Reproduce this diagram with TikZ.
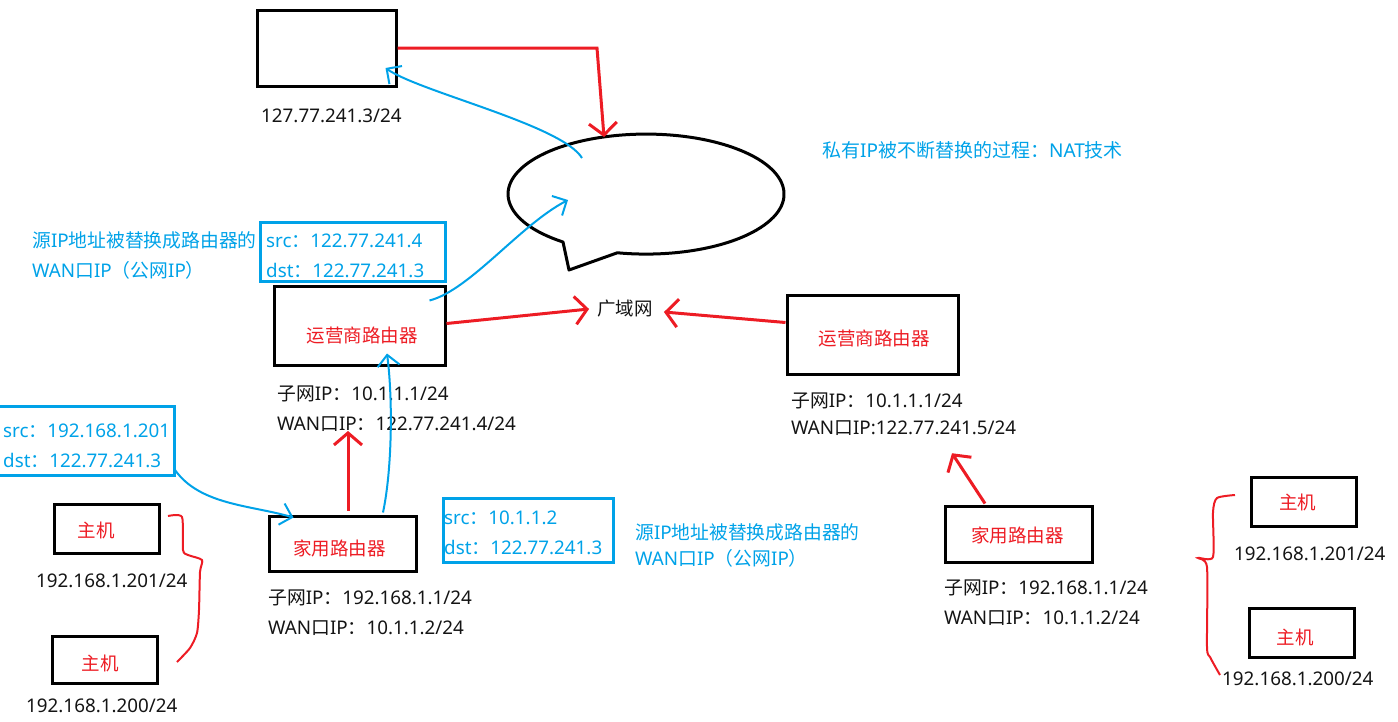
\documentclass[tikz,border=0pt]{standalone}
\usepackage{fontspec}
\setmainfont{Noto Sans}
\newfontfamily\cjk{Noto Sans CJK SC}
\usetikzlibrary{arrows.meta,calc}
\newcommand{\zh}[1]{{\cjk #1}}
\definecolor{pred}{RGB}{237,28,36}
\definecolor{pblue}{RGB}{0,162,232}
\definecolor{ptext}{RGB}{20,20,20}
\begin{document}
\begin{tikzpicture}[x=1pt,y=-1pt,
  box/.style={draw=black,line width=3pt,inner sep=0pt},
  bbox/.style={draw=pblue,line width=3pt,inner sep=0pt},
  txt/.style={anchor=base west,inner sep=0pt,text=ptext,font=\fontsize{18.8}{22}\selectfont},
  btxt/.style={txt,text=pblue},
  rtxt/.style={anchor=center,inner sep=0pt,text=pred,font=\fontsize{18.5}{22}\selectfont\cjk},
  rarr/.style={draw=pred,line width=3pt,-{Straight Barb[length=12pt,width=28pt]}},
  barr/.style={draw=pblue,line width=2pt,-{Straight Barb[length=11pt,width=22pt]}},
  brace/.style={draw=pred,line width=2pt},
]
\useasboundingbox (0,0) rectangle (1398,721);

% ---------- top server ----------
\node[box,minimum width=139pt,minimum height=76pt] (top) at (326.5,48) {};
\node[txt] (topip) at (261,122) {127.77.241.3/24};

% ---------- speech bubble (WAN) ----------
\draw[line width=3pt,line join=round] (563,242) arc[start angle=127,end angle=462,x radius=138,y radius=60] -- (569,270) -- cycle;
\coordinate (bubtop) at (604,137);
\coordinate (bubin1) at (582,158);
\coordinate (bubin2) at (568,200);

\node[btxt,font=\fontsize{19}{24}\selectfont] (title) at (822,157) {\zh{私有}IP\zh{被不断替换的过程：}NAT\zh{技术}};

% ---------- left notes ----------
\node[btxt] (noteL1) at (32,247) {\zh{源}IP\zh{地址被替换成路由器的}};
\node[btxt] (noteL2) at (32,277) {WAN\zh{口}IP\zh{（公网}IP\zh{）}};

\node[bbox,minimum width=185pt,minimum height=59pt] (pkt3) at (352.5,251.5) {};
\node[btxt] (pkt3a) at (266,247) {src\zh{：}122.77.241.4};
\node[btxt] (pkt3b) at (266,277) {dst\zh{：}122.77.241.3};

% ---------- left ISP router ----------
\node[box,minimum width=171pt,minimum height=79pt] (ispL) at (359.5,325.5) {};
\node[rtxt] (ispLt) at (362,335) {运营商路由器};
\node[txt] (ispLa) at (277,400) {\zh{子网}IP\zh{：}10.1.1.1/24};
\node[txt] (ispLb) at (277,430) {WAN\zh{口}IP\zh{：}122.77.241.4/24};

% ---------- packet 1 ----------
\node[bbox,minimum width=176pt,minimum height=69pt] (pkt1) at (86,440.5) {};
\node[btxt] (pkt1a) at (3,437) {src\zh{：}192.168.1.201};
\node[btxt] (pkt1b) at (3,467) {dst\zh{：}122.77.241.3};

% ---------- left hosts ----------
\node[box,minimum width=105pt,minimum height=49pt] (hL1) at (106.5,528.5) {};
\node[rtxt] (hL1t) at (96,530) {主机};
\node[txt] (hL1ip) at (36,587) {192.168.1.201/24};
\node[box,minimum width=105pt,minimum height=47pt] (hL2) at (104.5,659.5) {};
\node[rtxt] (hL2t) at (100,663) {主机};
\node[txt] (hL2ip) at (26,712) {192.168.1.200/24};

% ---------- left home router ----------
\node[box,minimum width=147pt,minimum height=55pt] (homeL) at (342.5,543.5) {};
\node[rtxt] (homeLt) at (339.5,548) {家用路由器};
\node[txt] (homeLa) at (268,604) {\zh{子网}IP\zh{：}192.168.1.1/24};
\node[txt] (homeLb) at (268,634) {WAN\zh{口}IP\zh{：}10.1.1.2/24};

% ---------- packet 2 ----------
\node[bbox,minimum width=170pt,minimum height=64pt] (pkt2) at (528,530) {};
\node[btxt] (pkt2a) at (444,524) {src\zh{：}10.1.1.2};
\node[btxt] (pkt2b) at (444,554) {dst\zh{：}122.77.241.3};
\node[btxt] (noteR1) at (635,539) {\zh{源}IP\zh{地址被替换成路由器的}};
\node[btxt] (noteR2) at (635,565) {WAN\zh{口}IP\zh{（公网}IP\zh{）}};

% ---------- WAN label ----------
\node[inner sep=0pt,text=ptext,font=\fontsize{18.5}{22}\selectfont\cjk] (wan) at (625,309) {广域网};

% ---------- right ISP router ----------
\node[box,minimum width=171pt,minimum height=79pt] (ispR) at (872.5,334.5) {};
\node[rtxt] (ispRt) at (874,338) {运营商路由器};
\node[txt] (ispRa) at (791,407) {\zh{子网}IP\zh{：}10.1.1.1/24};
\node[txt] (ispRb) at (791,434) {WAN\zh{口}IP:122.77.241.5/24};

% ---------- right home router ----------
\node[box,minimum width=147pt,minimum height=56pt] (homeR) at (1018.5,534) {};
\node[rtxt] (homeRt) at (1017.5,535) {家用路由器};
\node[txt] (homeRa) at (944,594) {\zh{子网}IP\zh{：}192.168.1.1/24};
\node[txt] (homeRb) at (944,624) {WAN\zh{口}IP\zh{：}10.1.1.2/24};

% ---------- right hosts ----------
\node[box,minimum width=105pt,minimum height=49pt] (hR1) at (1303.5,501.5) {};
\node[rtxt] (hR1t) at (1297.5,502) {主机};
\node[txt] (hR1ip) at (1234,560) {192.168.1.201/24};
\node[box,minimum width=105pt,minimum height=49pt] (hR2) at (1301.5,632.5) {};
\node[rtxt] (hR2t) at (1295,637) {主机};
\node[txt] (hR2ip) at (1222,685) {192.168.1.200/24};

% ---------- red connectors ----------
\draw[rarr] (top.east) -- (597,48) -- (bubtop);
\draw[rarr] ($(homeL.north)+(5.5,-4)$) -- ($(ispLb.north west)+(71,15)$);
\draw[rarr] ($(ispL.east)+(0,-2)$) -- ($(wan.west)+(-8,0)$);
\draw[rarr] ($(ispR.west)+(0,-12)$) -- ($(wan.east)+(11,3)$);
\draw[rarr] ($(homeR.north)+(-33.5,-1)$) -- ($(ispRb.south west)+(161,18)$);

% ---------- blue connectors ----------
\draw[barr] (bubin1) .. controls (562,125) and (420,92) .. ($(top.east)+(-12,20)$);
\draw[barr] ($(ispL.north east)+(-17,16)$) .. controls (470,290) and (520,225) .. (bubin2);
\draw[barr] ($(homeL.north)+(40.5,-2)$) .. controls (392,470) and (393,400) .. ($(ispL.south)+(27.5,-13)$);
\draw[barr] ($(pkt1.south east)+(-0.5,-6.5)$) .. controls (200,505) and (250,505) .. ($(homeL.north west)+(26,3)$);

% ---------- braces ----------
\draw[brace] plot[smooth,tension=0.4] coordinates {(168,516) (182,517) (183,550) (188,555) (202,560) (200,572) (199,610) (197,633) (190,648) (177,662)};
\draw[brace] plot[smooth,tension=0.4] coordinates {(1235,495) (1217,498) (1213,512) (1213,557) (1198,558) (1207,567) (1207,647) (1210,657) (1220,675)};
\end{tikzpicture}
\end{document}
